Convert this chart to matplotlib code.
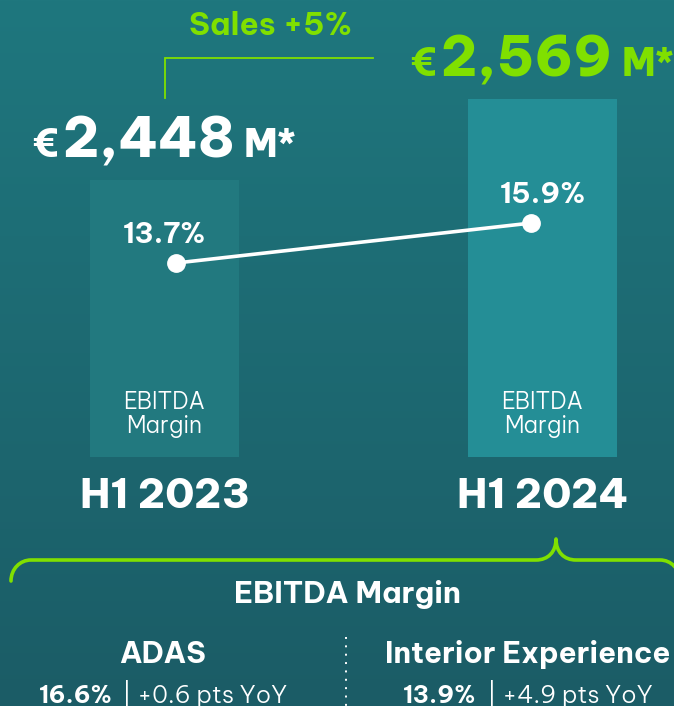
import matplotlib
matplotlib.use("Agg")
import matplotlib.pyplot as plt
import numpy as np
from matplotlib.path import Path
from matplotlib.patches import PathPatch
from matplotlib.transforms import IdentityTransform, blended_transform_factory
from matplotlib.colors import LinearSegmentedColormap

# ---------------- data ----------------
periods = ["H1 2023", "H1 2024"]
sales_m = [2448, 2569]            # EUR millions
ebitda_margin = [13.7, 15.9]      # %
sales_growth_label = "Sales +5%"
segments = ["ADAS", "Interior Experience"]
segment_margin = [16.6, 13.9]
segment_yoy = [0.6, 4.9]

# ---------------- style ----------------
FONT = ["Be Vietnam Pro", "DejaVu Sans"]
GREEN = "#80e000"
WHITE = "#ffffff"
BG_TOP = "#1f777e"
BG_BOT = "#1b5c66"
BAR_COLORS = ["#22797f", "#248e96"]
W, H = 674, 706

fig = plt.figure(figsize=(W / 100, H / 100), dpi=100)

# background gradient
bg = fig.add_axes([0, 0, 1, 1], zorder=-10)
grad = np.linspace(0, 1, 256).reshape(-1, 1)
cmap = LinearSegmentedColormap.from_list("bg", [BG_TOP, BG_BOT])
bg.imshow(grad, aspect="auto", cmap=cmap, extent=[0, 1, 0, 1], origin="upper")
bg.set_axis_off()

# main axes (bars) : bottom of bars at y=457px from top
ax = fig.add_axes([0, 249 / H, 1, 457 / H])
ax.set_facecolor("none")
ax.set_axis_off()
x = np.arange(len(periods))
ax.bar(x, sales_m, width=0.394, color=BAR_COLORS, zorder=1)
ax.set_xlim(-0.4352, 1.3479)
ax.set_ylim(2034.2, 2716.9)

# margin line on twin axis
ax2 = ax.twinx()
ax2.set_axis_off()
ax2.set_ylim(3.03, 28.17)
line_inset = 0.03
lx = x + np.array([line_inset, -line_inset])
ax2.plot(lx, ebitda_margin, color=WHITE, lw=2.6, marker="o", ms=12.5,
         solid_capstyle="round", zorder=3)
for xi, m in zip(x, ebitda_margin):
    ax2.annotate(f"{m}%", xy=(xi, m), xytext=(0, 20), textcoords="offset pixels",
                 ha="center", va="baseline", color=WHITE, fontsize=20.5,
                 fontweight="bold", family=FONT)

# labels inside bars and category labels
tr = blended_transform_factory(ax.transData, ax.transAxes)
for xi, p in zip(x, periods):
    ax.text(xi, 0.105, "EBITDA", transform=tr, ha="center", va="baseline",
            color=WHITE, fontsize=16.5, fontweight=300, family=FONT)
    ax.text(xi, 0.0525, "Margin", transform=tr, ha="center", va="baseline",
            color=WHITE, fontsize=16.5, fontweight=300, family=FONT)
    ax.text(xi, -0.1116, p, transform=tr, ha="center", va="baseline",
            color=WHITE, fontsize=29.5, fontweight=800, family=FONT,
            clip_on=False)

renderer = fig.canvas.get_renderer()


def draw_runs(xc, yb, runs, gaps):
    """Draw runs of text centred at display point (xc, yb) on a common baseline."""
    texts = []
    for s, kw in runs:
        t = fig.text(0, 0, s, transform=IdentityTransform(), ha="left",
                     va="baseline", **kw)
        texts.append(t)
    widths = [t.get_window_extent(renderer).width for t in texts]
    total = sum(widths) + sum(gaps)
    cur = xc - total / 2
    for i, t in enumerate(texts):
        t.set_position((cur, yb))
        cur += widths[i] + (gaps[i] if i < len(gaps) else 0)
    return texts


def top_px(y):
    return H - y


# sales value labels above bars
for xi, s, col in zip(x, sales_m, [WHITE, GREEN]):
    dx, dy = ax.transData.transform((xi, s))
    runs = [("€", dict(fontsize=27, fontweight=800, family=FONT, color=col)),
            (f"{s:,}", dict(fontsize=39.5, fontweight=800, family=FONT, color=col)),
            ("M*", dict(fontsize=27, fontweight=800, family=FONT, color=col))]
    draw_runs(dx, dy + 23, runs, [5, 9])

# overlay in pixel coords (origin top-left)
ov = fig.add_axes([0, 0, 1, 1], zorder=5)
ov.set_xlim(0, W)
ov.set_ylim(H, 0)
ov.set_axis_off()
ov.patch.set_alpha(0)

# "Sales +5%" with connector
bx1 = ax.transData.transform((0, 0))[0]
ov.text(270, 35, sales_growth_label, ha="center", va="baseline", color=GREEN,
        fontsize=22.5, fontweight="bold", family=FONT)
ov.plot([bx1, bx1, 373], [98, 58, 58], color=GREEN, lw=1.3,
        solid_joinstyle="miter")

# curly brace
verts = [(11, 581), (11, 569), (20, 560), (31, 560),
         (536, 560),
         (548, 560), (556, 552), (556, 539),
         (556, 552), (564, 560), (576, 560),
         (660, 560),
         (671, 560), (680, 569), (680, 581)]
codes = [Path.MOVETO, Path.CURVE4, Path.CURVE4, Path.CURVE4,
         Path.LINETO,
         Path.CURVE4, Path.CURVE4, Path.CURVE4,
         Path.CURVE4, Path.CURVE4, Path.CURVE4,
         Path.LINETO,
         Path.CURVE4, Path.CURVE4, Path.CURVE4]
ov.add_patch(PathPatch(Path(verts, codes), fill=False, edgecolor=GREEN,
                       lw=2.6, capstyle="round", joinstyle="round"))

ov.text(347, 603, "EBITDA Margin", ha="center", va="baseline", color=WHITE,
        fontsize=21.5, fontweight="bold", family=FONT)

# dotted divider
ov.plot([346, 346], [637, 710], color=WHITE, lw=1.4, linestyle=(0, (1.0, 3.3)))

# segment columns
seg_x = [163, 528]
for sx, name, m, d in zip(seg_x, segments, segment_margin, segment_yoy):
    ov.text(sx, 663, name, ha="center", va="baseline", color=WHITE,
            fontsize=21.2, fontweight="bold", family=FONT)
    runs = [(f"{m}%", dict(fontsize=17.5, fontweight="bold", family=FONT, color=WHITE)),
            (f"| +{d} pts YoY", dict(fontsize=17.5, fontweight=300, family=FONT, color=WHITE))]
    draw_runs(sx, top_px(703), runs, [10])

fig.savefig("out.png", dpi=100)
